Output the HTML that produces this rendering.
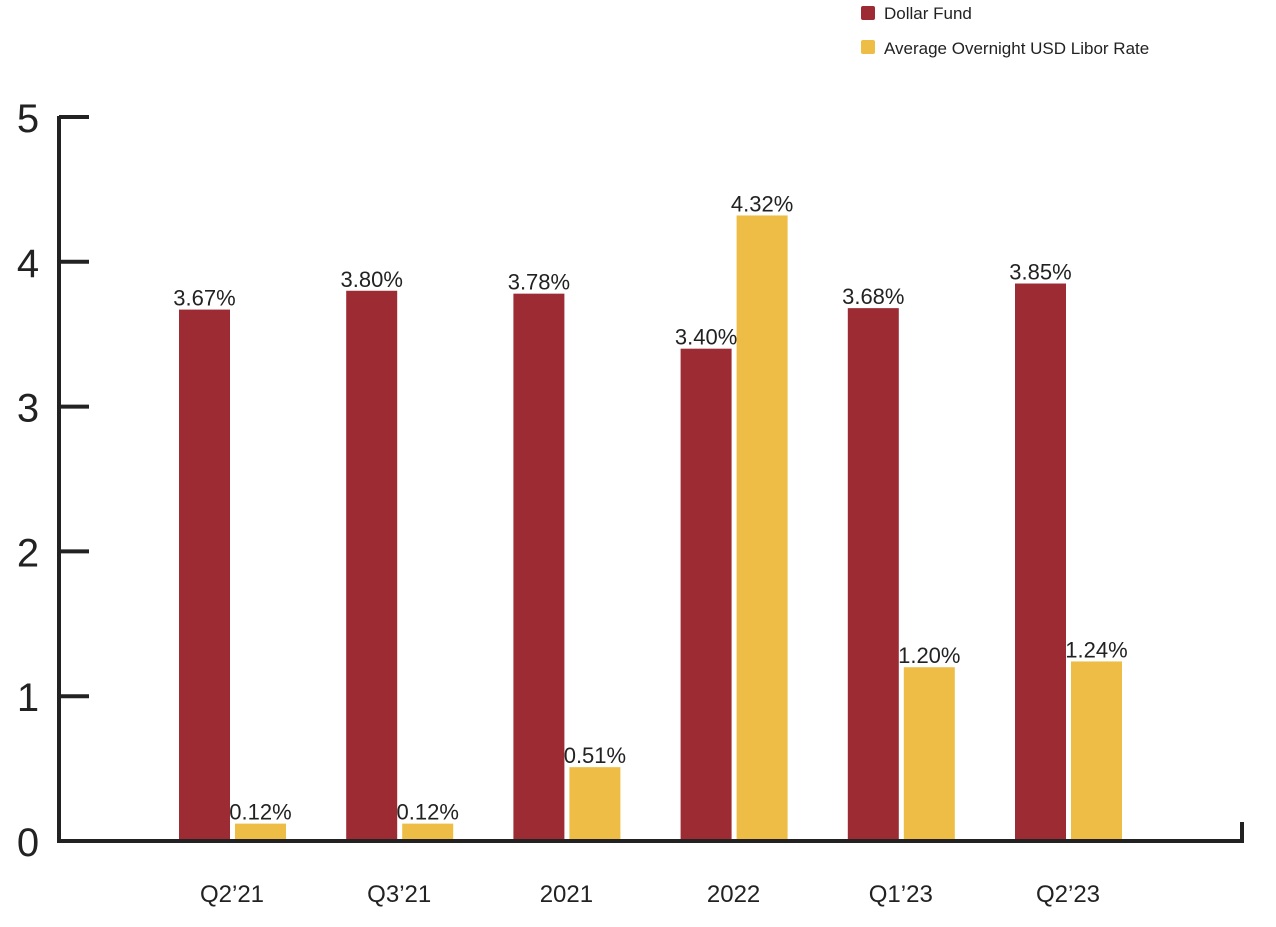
<!DOCTYPE html>
<html><head><meta charset="utf-8"><style>
body{margin:0;background:#fff;width:1276px;height:922px;overflow:hidden}
svg{font-family:"Liberation Sans","DejaVu Sans",sans-serif}
</style></head><body>
<svg width="1276" height="922" id="chart">
<g>
<g><rect x="861" y="6" width="14" height="14" rx="2" fill="#9c2b33"/><text x="884" y="19" font-size="17" fill="#222">Dollar Fund</text></g>
<g><rect x="861" y="40" width="14" height="14" rx="2" fill="#eebd45"/><text x="884" y="54" font-size="17" fill="#222">Average Overnight USD Libor Rate</text></g>
</g>
<g id="bars"></g>
<g id="axes"></g>
</svg>
<script>
const categories=["Q2’21","Q3’21","2021","2022","Q1’23","Q2’23"];
const dollarFund=[3.67,3.80,3.78,3.40,3.68,3.85];
const libor=[0.12,0.12,0.51,4.32,1.20,1.24];
const yTicks=[0,1,2,3,4,5];
const NS="http://www.w3.org/2000/svg";
const y0=841,pxPerUnit=144.8;
function y(v){return y0-v*pxPerUnit;}
function xg(i){return 179+i*167.2;}
const bw=51;
const bars=document.getElementById('bars'),axes=document.getElementById('axes');
function mk(t,a,p){const e=document.createElementNS(NS,t);for(const k in a)e.setAttribute(k,a[k]);p.appendChild(e);return e;}
categories.forEach((c,i)=>{
 [[dollarFund,"#9c2b33",0,"dollar-fund"],[libor,"#eebd45",56,"libor"]].forEach(([arr,col,off,nm])=>{
  const v=arr[i],x=xg(i)+off;
  const r=mk('rect',{x:x,y:y(v),width:bw,height:y0-y(v),fill:col},bars);
  
  
  const t=mk('text',{x:x+bw/2,y:y(v)-4,'font-size':22,'text-anchor':'middle',fill:'#222'},bars);
  t.textContent=v.toFixed(2)+'%';
  
  
 });
 const l=mk('text',{x:xg(i)+53,y:902,'font-size':24,'text-anchor':'middle',fill:'#222'},axes);
 l.textContent=c;
 
 
});
const ya=mk('line',{x1:59,y1:116,x2:59,y2:843,stroke:'#222','stroke-width':4},axes);


const xa=mk('path',{d:'M57 841 H1242 V822',stroke:'#222','stroke-width':4,fill:'none'},axes);


yTicks.forEach(v=>{
 if(v>0){const tk=mk('line',{x1:59,y1:y(v),x2:89,y2:y(v),stroke:'#222','stroke-width':4},axes);
 
 }
 const t=mk('text',{x:28,y:y(v)+15,'font-size':40,'text-anchor':'middle',fill:'#222'},axes);
 t.textContent=v;
 
 
});
</script>
</body></html>
